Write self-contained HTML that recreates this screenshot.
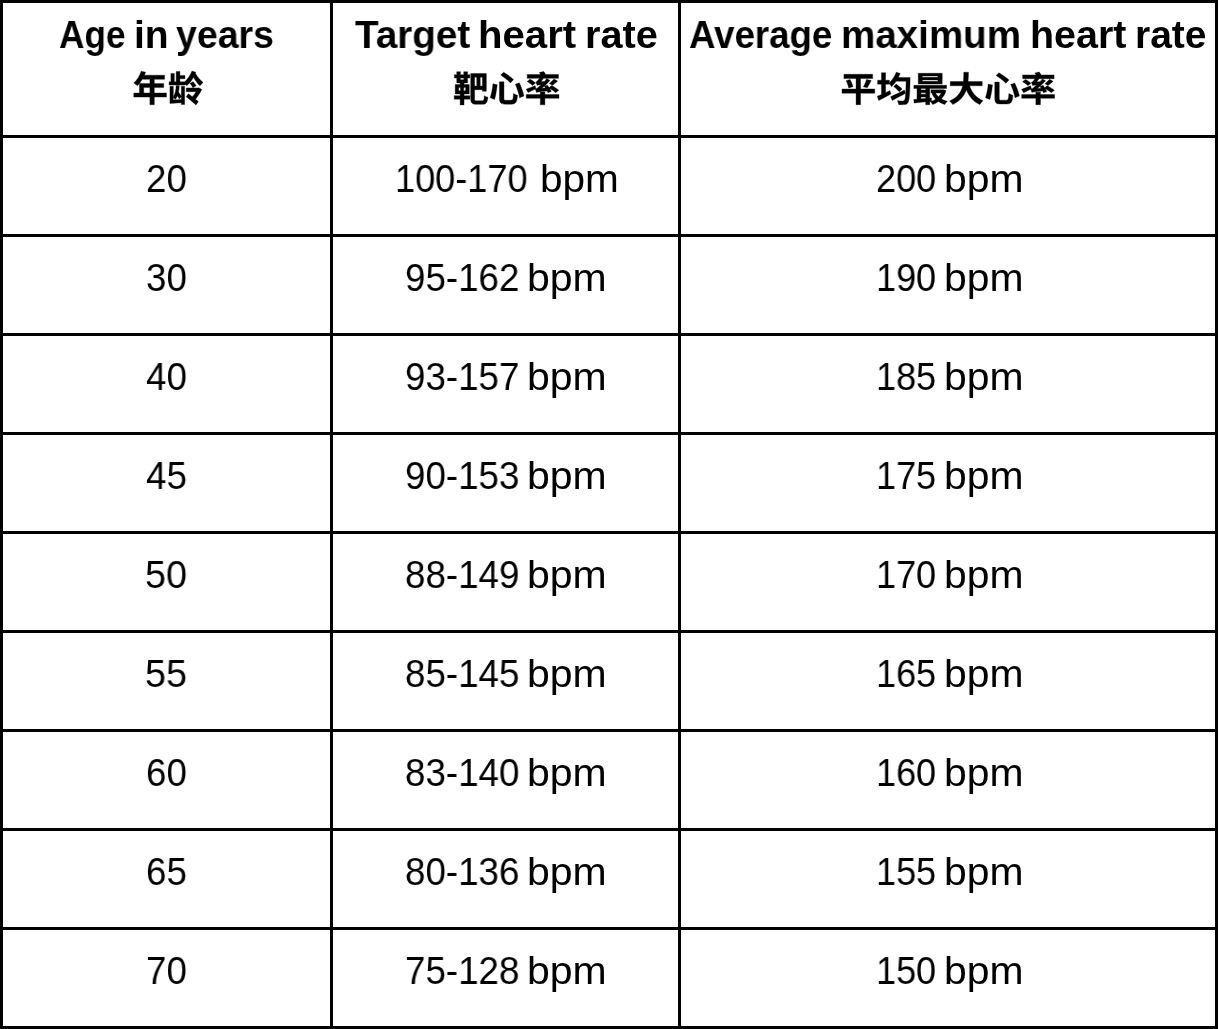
<!DOCTYPE html>
<html><head><meta charset="utf-8"><title>Heart rate table</title><style>
html,body{margin:0;padding:0;background:#fff}
body{width:1219px;height:1029px;position:relative;overflow:hidden}
.l{position:absolute;background:#000}
.t{position:absolute;white-space:nowrap;font-family:"Liberation Sans",sans-serif;color:#000;line-height:1;transform-origin:0 0;will-change:transform}
svg.c{position:absolute;left:0;top:0;overflow:visible}
</style></head><body>
<div class=l style='left:0px;top:0;width:3px;height:1029px'></div>
<div class=l style='left:330px;top:0;width:3px;height:1029px'></div>
<div class=l style='left:678px;top:0;width:3px;height:1029px'></div>
<div class=l style='left:1215px;top:0;width:3px;height:1029px'></div>
<div class=l style='left:0;top:0px;width:1218px;height:3px'></div>
<div class=l style='left:0;top:135px;width:1218px;height:3px'></div>
<div class=l style='left:0;top:234px;width:1218px;height:3px'></div>
<div class=l style='left:0;top:333px;width:1218px;height:3px'></div>
<div class=l style='left:0;top:432px;width:1218px;height:3px'></div>
<div class=l style='left:0;top:531px;width:1218px;height:3px'></div>
<div class=l style='left:0;top:630px;width:1218px;height:3px'></div>
<div class=l style='left:0;top:729px;width:1218px;height:3px'></div>
<div class=l style='left:0;top:828px;width:1218px;height:3px'></div>
<div class=l style='left:0;top:927px;width:1218px;height:3px'></div>
<div class=l style='left:0;top:1026px;width:1218px;height:3px'></div>
<div class=t style='left:58.90px;top:15.00px;font-size:39px;font-weight:700;transform:scaleX(0.9023)'>Age</div>
<div class=t style='left:133.87px;top:15.00px;font-size:39px;font-weight:700;transform:scaleX(1.0009)'>in</div>
<div class=t style='left:175.95px;top:15.00px;font-size:39px;font-weight:700;transform:scaleX(0.9605)'>years</div>
<div class=t style='left:354.90px;top:15.00px;font-size:39px;font-weight:700;transform:scaleX(0.9916)'>Target</div>
<div class=t style='left:478.03px;top:15.00px;font-size:39px;font-weight:700;transform:scaleX(1.0290)'>heart</div>
<div class=t style='left:584.95px;top:15.00px;font-size:39px;font-weight:700;transform:scaleX(1.0179)'>rate</div>
<div class=t style='left:689.06px;top:15.00px;font-size:39px;font-weight:700;transform:scaleX(0.9398)'>Average</div>
<div class=t style='left:841.00px;top:15.00px;font-size:39px;font-weight:700;transform:scaleX(0.9885)'>maximum</div>
<div class=t style='left:1029.90px;top:15.00px;font-size:39px;font-weight:700;transform:scaleX(1.0107)'>heart</div>
<div class=t style='left:1134.91px;top:15.00px;font-size:39px;font-weight:700;transform:scaleX(0.9998)'>rate</div>
<div class=t style='left:146.29px;top:159.90px;font-size:38.5px;font-weight:400;transform:scaleX(0.9538)'>20</div>
<div class=t style='left:395.29px;top:159.90px;font-size:38.5px;font-weight:400;transform:scaleX(0.9380)'>100-170</div>
<div class=t style='left:539.84px;top:159.90px;font-size:38.5px;font-weight:400;transform:scaleX(1.0536)'>bpm</div>
<div class=t style='left:875.58px;top:159.90px;font-size:38.5px;font-weight:400;transform:scaleX(0.9374)'>200</div>
<div class=t style='left:944.49px;top:159.90px;font-size:38.5px;font-weight:400;transform:scaleX(1.0613)'>bpm</div>
<div class=t style='left:146.29px;top:258.90px;font-size:38.5px;font-weight:400;transform:scaleX(0.9538)'>30</div>
<div class=t style='left:404.89px;top:258.90px;font-size:38.5px;font-weight:400;transform:scaleX(0.9541)'>95-162</div>
<div class=t style='left:527.36px;top:258.90px;font-size:38.5px;font-weight:400;transform:scaleX(1.0644)'>bpm</div>
<div class=t style='left:875.64px;top:258.90px;font-size:38.5px;font-weight:400;transform:scaleX(0.9363)'>190</div>
<div class=t style='left:944.48px;top:258.90px;font-size:38.5px;font-weight:400;transform:scaleX(1.0613)'>bpm</div>
<div class=t style='left:146.24px;top:357.90px;font-size:38.5px;font-weight:400;transform:scaleX(0.9550)'>40</div>
<div class=t style='left:404.89px;top:357.90px;font-size:38.5px;font-weight:400;transform:scaleX(0.9541)'>93-157</div>
<div class=t style='left:527.36px;top:357.90px;font-size:38.5px;font-weight:400;transform:scaleX(1.0644)'>bpm</div>
<div class=t style='left:875.64px;top:357.90px;font-size:38.5px;font-weight:400;transform:scaleX(0.9363)'>185</div>
<div class=t style='left:944.48px;top:357.90px;font-size:38.5px;font-weight:400;transform:scaleX(1.0613)'>bpm</div>
<div class=t style='left:146.24px;top:456.90px;font-size:38.5px;font-weight:400;transform:scaleX(0.9550)'>45</div>
<div class=t style='left:404.89px;top:456.90px;font-size:38.5px;font-weight:400;transform:scaleX(0.9541)'>90-153</div>
<div class=t style='left:527.36px;top:456.90px;font-size:38.5px;font-weight:400;transform:scaleX(1.0644)'>bpm</div>
<div class=t style='left:875.64px;top:456.90px;font-size:38.5px;font-weight:400;transform:scaleX(0.9363)'>175</div>
<div class=t style='left:944.48px;top:456.90px;font-size:38.5px;font-weight:400;transform:scaleX(1.0613)'>bpm</div>
<div class=t style='left:145.24px;top:555.90px;font-size:38.5px;font-weight:400;transform:scaleX(0.9795)'>50</div>
<div class=t style='left:404.89px;top:555.90px;font-size:38.5px;font-weight:400;transform:scaleX(0.9541)'>88-149</div>
<div class=t style='left:527.36px;top:555.90px;font-size:38.5px;font-weight:400;transform:scaleX(1.0644)'>bpm</div>
<div class=t style='left:875.64px;top:555.90px;font-size:38.5px;font-weight:400;transform:scaleX(0.9363)'>170</div>
<div class=t style='left:944.48px;top:555.90px;font-size:38.5px;font-weight:400;transform:scaleX(1.0613)'>bpm</div>
<div class=t style='left:145.24px;top:654.90px;font-size:38.5px;font-weight:400;transform:scaleX(0.9795)'>55</div>
<div class=t style='left:404.89px;top:654.90px;font-size:38.5px;font-weight:400;transform:scaleX(0.9541)'>85-145</div>
<div class=t style='left:527.36px;top:654.90px;font-size:38.5px;font-weight:400;transform:scaleX(1.0644)'>bpm</div>
<div class=t style='left:875.64px;top:654.90px;font-size:38.5px;font-weight:400;transform:scaleX(0.9363)'>165</div>
<div class=t style='left:944.48px;top:654.90px;font-size:38.5px;font-weight:400;transform:scaleX(1.0613)'>bpm</div>
<div class=t style='left:146.29px;top:753.90px;font-size:38.5px;font-weight:400;transform:scaleX(0.9538)'>60</div>
<div class=t style='left:404.89px;top:753.90px;font-size:38.5px;font-weight:400;transform:scaleX(0.9541)'>83-140</div>
<div class=t style='left:527.36px;top:753.90px;font-size:38.5px;font-weight:400;transform:scaleX(1.0644)'>bpm</div>
<div class=t style='left:875.64px;top:753.90px;font-size:38.5px;font-weight:400;transform:scaleX(0.9363)'>160</div>
<div class=t style='left:944.48px;top:753.90px;font-size:38.5px;font-weight:400;transform:scaleX(1.0613)'>bpm</div>
<div class=t style='left:146.29px;top:852.90px;font-size:38.5px;font-weight:400;transform:scaleX(0.9538)'>65</div>
<div class=t style='left:404.89px;top:852.90px;font-size:38.5px;font-weight:400;transform:scaleX(0.9541)'>80-136</div>
<div class=t style='left:527.36px;top:852.90px;font-size:38.5px;font-weight:400;transform:scaleX(1.0644)'>bpm</div>
<div class=t style='left:875.64px;top:852.90px;font-size:38.5px;font-weight:400;transform:scaleX(0.9363)'>155</div>
<div class=t style='left:944.48px;top:852.90px;font-size:38.5px;font-weight:400;transform:scaleX(1.0613)'>bpm</div>
<div class=t style='left:146.29px;top:951.90px;font-size:38.5px;font-weight:400;transform:scaleX(0.9538)'>70</div>
<div class=t style='left:404.89px;top:951.90px;font-size:38.5px;font-weight:400;transform:scaleX(0.9541)'>75-128</div>
<div class=t style='left:527.36px;top:951.90px;font-size:38.5px;font-weight:400;transform:scaleX(1.0644)'>bpm</div>
<div class=t style='left:875.64px;top:951.90px;font-size:38.5px;font-weight:400;transform:scaleX(0.9363)'>150</div>
<div class=t style='left:944.48px;top:951.90px;font-size:38.5px;font-weight:400;transform:scaleX(1.0613)'>bpm</div>
<svg class=c width='1219' height='1029' viewBox='0 0 1219 1029'>
<path aria-label='年龄' stroke='#000' stroke-width='10' transform='translate(132.39 101.51) scale(0.03552 0.03557)' d='M40 -240V-125H493V90H617V-125H960V-240H617V-391H882V-503H617V-624H906V-740H338C350 -767 361 -794 371 -822L248 -854C205 -723 127 -595 37 -518C67 -500 118 -461 141 -440C189 -488 236 -552 278 -624H493V-503H199V-240ZM319 -240V-391H493V-240ZM1620 -515C1650 -476 1686 -423 1702 -389L1797 -440C1779 -472 1743 -521 1711 -558ZM1268 -161C1288 -129 1307 -97 1318 -72L1378 -127V-56L1152 -45V-111C1171 -95 1198 -69 1207 -54C1232 -84 1252 -120 1268 -161ZM1057 -426V54L1378 33V82H1471V-431H1378V-145C1360 -180 1329 -225 1298 -264C1310 -319 1317 -379 1322 -442L1232 -450C1225 -321 1207 -206 1152 -130V-426ZM1677 -855C1637 -749 1563 -634 1475 -554H1338V-640H1480V-734H1338V-842H1233V-554H1181V-789H1084V-554H1034V-463H1488V-487C1504 -471 1519 -454 1528 -442C1604 -506 1669 -590 1721 -684C1773 -590 1839 -498 1903 -440C1923 -470 1963 -513 1991 -535C1911 -594 1824 -697 1774 -794L1785 -823ZM1516 -383V-277H1790C1760 -228 1722 -175 1688 -133L1577 -217L1513 -137C1602 -65 1731 36 1790 98L1857 4C1837 -15 1809 -39 1777 -64C1839 -142 1910 -245 1955 -336L1871 -389L1852 -383Z'/>
<path aria-label='靶心率' stroke='#000' stroke-width='10' transform='translate(453.13 101.72) scale(0.03579 0.03534)' d='M58 -487V-220H196V-172H30V-72H196V90H305V-72H469V-172H305V-220H450V-487H306V-533H405V-669H467V-766H405V-849H297V-766H205V-849H101V-766H35V-669H101V-533H196V-487ZM297 -669V-621H205V-669ZM156 -400H206V-308H156ZM296 -400H350V-308H296ZM660 -694V-444H600V-694ZM757 -694H818V-444H757ZM491 -800V-95C491 40 527 74 643 74C669 74 794 74 821 74C927 74 958 20 972 -125C941 -132 897 -151 871 -170C864 -57 856 -29 812 -29C786 -29 680 -29 657 -29C607 -29 600 -37 600 -94V-339H818V-295H928V-800ZM1294 -563V-98C1294 30 1331 70 1461 70C1487 70 1601 70 1629 70C1752 70 1785 10 1799 -180C1766 -188 1714 -210 1686 -231C1679 -74 1670 -42 1619 -42C1593 -42 1499 -42 1476 -42C1428 -42 1420 -49 1420 -98V-563ZM1113 -505C1101 -370 1072 -220 1036 -114L1158 -64C1192 -178 1217 -352 1231 -482ZM1737 -491C1790 -373 1841 -214 1857 -112L1979 -162C1958 -266 1906 -418 1849 -537ZM1329 -753C1422 -690 1546 -594 1601 -532L1689 -626C1629 -688 1502 -777 1410 -834ZM2817 -643C2785 -603 2729 -549 2688 -517L2776 -463C2818 -493 2872 -539 2917 -585ZM2068 -575C2121 -543 2187 -494 2217 -461L2302 -532C2268 -565 2200 -610 2148 -639ZM2043 -206V-95H2436V88H2564V-95H2958V-206H2564V-273H2436V-206ZM2409 -827 2443 -770H2069V-661H2412C2390 -627 2368 -601 2359 -591C2343 -573 2328 -560 2312 -556C2323 -531 2339 -483 2345 -463C2360 -469 2382 -474 2459 -479C2424 -446 2395 -421 2380 -409C2344 -381 2321 -363 2295 -358C2306 -331 2321 -282 2326 -262C2351 -273 2390 -280 2629 -303C2637 -285 2644 -268 2649 -254L2742 -289C2734 -313 2719 -342 2702 -372C2762 -335 2828 -288 2863 -256L2951 -327C2905 -366 2816 -421 2751 -456L2683 -402C2668 -426 2652 -449 2636 -469L2549 -438C2560 -422 2572 -405 2583 -387L2478 -380C2558 -444 2638 -522 2706 -602L2616 -656C2596 -629 2574 -601 2551 -575L2459 -572C2484 -600 2508 -630 2529 -661H2944V-770H2586C2572 -797 2551 -830 2531 -855ZM2040 -354 2098 -258C2157 -286 2228 -322 2295 -358L2313 -368L2290 -455C2198 -417 2103 -377 2040 -354Z'/>
<path aria-label='平均最大心率' stroke='#000' stroke-width='10' transform='translate(840.35 101.59) scale(0.03596 0.03460)' d='M159 -604C192 -537 223 -449 233 -395L350 -432C338 -488 303 -572 269 -637ZM729 -640C710 -574 674 -486 642 -428L747 -397C781 -449 822 -530 858 -607ZM46 -364V-243H437V89H562V-243H957V-364H562V-669H899V-788H99V-669H437V-364ZM1482 -438C1537 -390 1608 -322 1643 -282L1716 -362C1679 -401 1610 -460 1553 -505ZM1398 -139 1444 -31C1549 -88 1686 -165 1810 -238L1782 -332C1644 -259 1493 -181 1398 -139ZM1026 -154 1067 -30C1166 -83 1292 -153 1406 -219L1378 -317L1258 -259V-504H1365V-512C1386 -486 1412 -450 1425 -430C1468 -473 1511 -529 1550 -590H1829C1821 -223 1810 -69 1779 -36C1769 -22 1756 -19 1737 -19C1711 -19 1652 -19 1586 -25C1606 7 1622 57 1624 88C1683 90 1746 92 1784 86C1825 80 1853 69 1880 30C1918 -24 1930 -184 1940 -643C1941 -658 1941 -698 1941 -698H1612C1632 -737 1650 -776 1665 -815L1556 -850C1514 -736 1442 -622 1365 -545V-618H1258V-836H1143V-618H1037V-504H1143V-205C1099 -185 1058 -167 1026 -154ZM2281 -627H2713V-586H2281ZM2281 -740H2713V-700H2281ZM2166 -818V-508H2833V-818ZM2372 -377V-337H2240V-377ZM2042 -63 2052 41 2372 7V90H2486V-6L2533 -11L2532 -107L2486 -102V-377H2955V-472H2043V-377H2131V-70ZM2519 -340V-246H2590L2544 -233C2571 -171 2606 -117 2649 -70C2606 -40 2558 -16 2507 0C2528 21 2555 61 2567 86C2625 64 2679 35 2727 -1C2778 36 2837 65 2904 85C2919 56 2951 13 2975 -10C2913 -24 2858 -46 2810 -75C2868 -139 2913 -219 2940 -317L2872 -343L2853 -340ZM2647 -246H2804C2784 -206 2758 -170 2728 -137C2694 -169 2667 -206 2647 -246ZM2372 -254V-213H2240V-254ZM2372 -130V-91L2240 -79V-130ZM3432 -849C3431 -767 3432 -674 3422 -580H3056V-456H3402C3362 -283 3267 -118 3037 -15C3072 11 3108 54 3127 86C3340 -16 3448 -172 3503 -340C3581 -145 3697 2 3879 86C3898 52 3938 -1 3968 -27C3780 -103 3659 -261 3592 -456H3946V-580H3551C3561 -674 3562 -766 3563 -849ZM4294 -563V-98C4294 30 4331 70 4461 70C4487 70 4601 70 4629 70C4752 70 4785 10 4799 -180C4766 -188 4714 -210 4686 -231C4679 -74 4670 -42 4619 -42C4593 -42 4499 -42 4476 -42C4428 -42 4420 -49 4420 -98V-563ZM4113 -505C4101 -370 4072 -220 4036 -114L4158 -64C4192 -178 4217 -352 4231 -482ZM4737 -491C4790 -373 4841 -214 4857 -112L4979 -162C4958 -266 4906 -418 4849 -537ZM4329 -753C4422 -690 4546 -594 4601 -532L4689 -626C4629 -688 4502 -777 4410 -834ZM5817 -643C5785 -603 5729 -549 5688 -517L5776 -463C5818 -493 5872 -539 5917 -585ZM5068 -575C5121 -543 5187 -494 5217 -461L5302 -532C5268 -565 5200 -610 5148 -639ZM5043 -206V-95H5436V88H5564V-95H5958V-206H5564V-273H5436V-206ZM5409 -827 5443 -770H5069V-661H5412C5390 -627 5368 -601 5359 -591C5343 -573 5328 -560 5312 -556C5323 -531 5339 -483 5345 -463C5360 -469 5382 -474 5459 -479C5424 -446 5395 -421 5380 -409C5344 -381 5321 -363 5295 -358C5306 -331 5321 -282 5326 -262C5351 -273 5390 -280 5629 -303C5637 -285 5644 -268 5649 -254L5742 -289C5734 -313 5719 -342 5702 -372C5762 -335 5828 -288 5863 -256L5951 -327C5905 -366 5816 -421 5751 -456L5683 -402C5668 -426 5652 -449 5636 -469L5549 -438C5560 -422 5572 -405 5583 -387L5478 -380C5558 -444 5638 -522 5706 -602L5616 -656C5596 -629 5574 -601 5551 -575L5459 -572C5484 -600 5508 -630 5529 -661H5944V-770H5586C5572 -797 5551 -830 5531 -855ZM5040 -354 5098 -258C5157 -286 5228 -322 5295 -358L5313 -368L5290 -455C5198 -417 5103 -377 5040 -354Z'/>
</svg>
</body></html>
